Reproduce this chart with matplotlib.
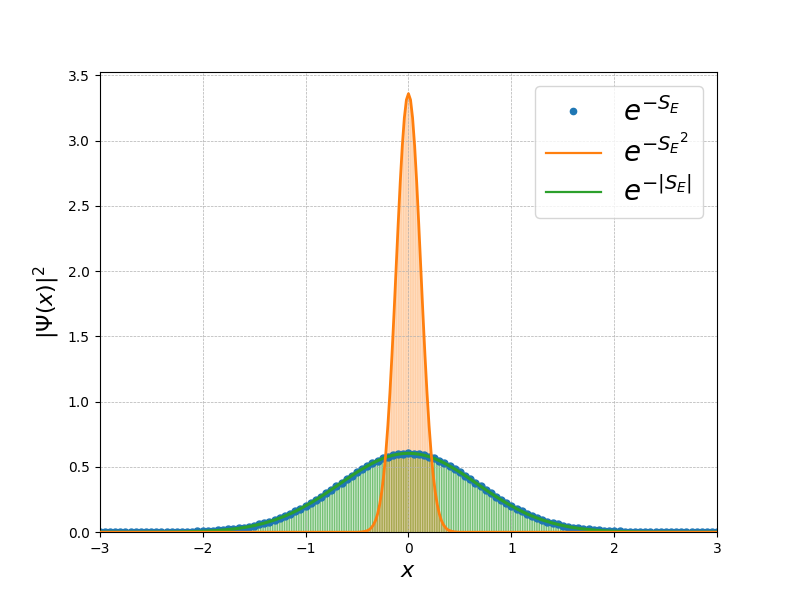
import numpy as np
import matplotlib
matplotlib.use("Agg")
import matplotlib.pyplot as plt
from matplotlib.colors import to_rgba

# x grid of the sampled wavefunction (blue dots / green curve), step 0.05
x_pts = np.round(np.linspace(-3.0, 3.0, 121), 2)
# values from x=-3 .. 3
psi_vals = [0.000, 0.000, 0.000, 0.000, 0.000, 0.000, 0.000, 0.000, 0.000, 0.001,
            0.001, 0.001, 0.001, 0.001, 0.002, 0.002, 0.003, 0.004, 0.005, 0.006,
            0.007, 0.009, 0.011, 0.014, 0.017, 0.021, 0.025, 0.030, 0.036, 0.043,
            0.051, 0.060, 0.070, 0.082, 0.094, 0.109, 0.124, 0.141, 0.160, 0.180,
            0.202, 0.224, 0.248, 0.273, 0.299, 0.326, 0.353, 0.380, 0.407, 0.434,
            0.460, 0.484, 0.507, 0.529, 0.548, 0.565, 0.579, 0.590, 0.598, 0.603,
            0.605,
            0.603, 0.598, 0.590, 0.579, 0.565, 0.548, 0.529, 0.507, 0.484, 0.460,
            0.434, 0.407, 0.380, 0.353, 0.326, 0.299, 0.273, 0.248, 0.224, 0.202,
            0.180, 0.160, 0.141, 0.124, 0.109, 0.094, 0.082, 0.070, 0.060, 0.051,
            0.043, 0.036, 0.030, 0.025, 0.021, 0.017, 0.014, 0.011, 0.009, 0.007,
            0.006, 0.005, 0.004, 0.003, 0.002, 0.002, 0.001, 0.001, 0.001, 0.001,
            0.001, 0.000, 0.000, 0.000, 0.000, 0.000, 0.000, 0.000, 0.000, 0.000]

# narrow distribution (orange), sampled on x = -3, -0.5..0.5 step 0.02, 3
x_sq = [-3.0, -0.50, -0.48, -0.46, -0.44, -0.42, -0.40, -0.38, -0.36, -0.34, -0.32,
        -0.30, -0.28, -0.26, -0.24, -0.22, -0.20, -0.18, -0.16, -0.14, -0.12,
        -0.10, -0.08, -0.06, -0.04, -0.02, 0.00, 0.02, 0.04, 0.06, 0.08, 0.10,
        0.12, 0.14, 0.16, 0.18, 0.20, 0.22, 0.24, 0.26, 0.28, 0.30, 0.32, 0.34,
        0.36, 0.38, 0.40, 0.42, 0.44, 0.46, 0.48, 0.50, 3.0]
psi_sq = [0.000, 0.000, 0.001, 0.002, 0.004, 0.007, 0.012, 0.020, 0.035, 0.057, 0.090,
          0.140, 0.211, 0.309, 0.440, 0.608, 0.818, 1.070, 1.361, 1.682, 2.021,
          2.360, 2.680, 2.959, 3.175, 3.313, 3.360, 3.313, 3.175, 2.959, 2.680, 2.360,
          2.021, 1.682, 1.361, 1.070, 0.818, 0.608, 0.440, 0.309, 0.211, 0.140,
          0.090, 0.057, 0.035, 0.020, 0.012, 0.007, 0.004, 0.002, 0.001, 0.000, 0.000]

labels = [r"$e^{-S_E}$", r"$e^{-{S_E}^2}$", r"$e^{-|S_E|}$"]

fig, ax = plt.subplots(figsize=(7.97, 5.98), dpi=100)

blue, orange, green = "tab:blue", "tab:orange", "tab:green"

ax.fill_between(x_pts, 0, psi_vals, facecolor=to_rgba(green, 0.22),
                edgecolor=to_rgba(green, 0.55), hatch="|" * 7, linewidth=0, zorder=1)
ax.fill_between(x_sq, 0, psi_sq, facecolor=to_rgba(orange, 0.25),
                edgecolor=to_rgba(orange, 0.15), hatch="|" * 7, linewidth=0, zorder=1)

ax.plot(x_pts, psi_vals, ".", color=blue, markersize=10, label=labels[0], zorder=2)
ax.plot(x_sq, psi_sq, "-", color=orange, linewidth=2, label=labels[1], zorder=4)
ax.plot(x_pts, psi_vals, "-", color=green, linewidth=2.2, label=labels[2], zorder=3)

ax.set_xlim(-3, 3)
ax.set_ylim(0, 3.528)
ax.set_xticks([-3, -2, -1, 0, 1, 2, 3])
ax.set_yticks(np.arange(0, 3.51, 0.5))
ax.grid(True, linestyle="--", linewidth=0.5)
ax.set_xlabel(r"$x$", fontsize=16)
ax.set_ylabel(r"$|\Psi(x)|^2$", fontsize=16)
leg = ax.legend(loc="upper right", fontsize=20, labelspacing=0.3, markerscale=0.9)
for h in leg.get_lines()[1:]:
    h.set_linewidth(1.6)

fig.savefig("out.png", dpi=100)
